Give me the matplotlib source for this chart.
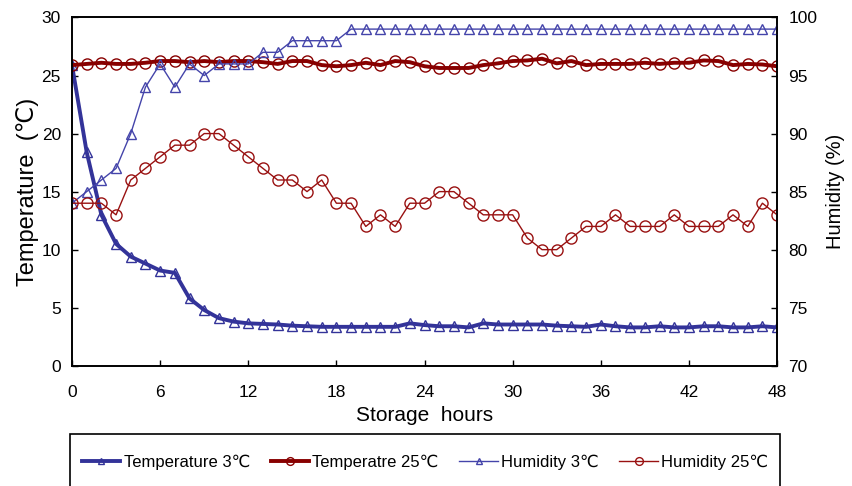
import matplotlib
matplotlib.use('Agg')
import matplotlib.pyplot as plt
from matplotlib.patches import Rectangle

plt.rcParams['font.family'] = ['Liberation Sans', 'DejaVu Sans']

# storage hours, sampled every hour
hours = list(range(0, 49))

temp_3 = [25.9, 18.4, 13.0, 10.5, 9.4, 8.8, 8.2, 8.0, 5.8, 4.8,
          4.1, 3.8, 3.65, 3.6, 3.55, 3.45, 3.4, 3.35, 3.35, 3.35,
          3.35, 3.35, 3.35, 3.65, 3.5, 3.4, 3.4, 3.3, 3.65, 3.55,
          3.55, 3.55, 3.55, 3.45, 3.4, 3.35, 3.55, 3.4, 3.3, 3.3,
          3.4, 3.3, 3.3, 3.4, 3.4, 3.3, 3.3, 3.4, 3.3]

temp_25 = [25.9, 26.0, 26.1, 26.0, 26.0, 26.1, 26.25, 26.25, 26.15, 26.25,
           26.15, 26.25, 26.25, 26.15, 26.0, 26.25, 26.25, 25.9, 25.8, 25.9,
           26.1, 25.9, 26.25, 26.15, 25.8, 25.65, 25.65, 25.65, 25.9, 26.05,
           26.25, 26.3, 26.45, 26.05, 26.25, 25.9, 26.0, 26.0, 26.0, 26.1,
           26.0, 26.1, 26.1, 26.3, 26.25, 25.9, 26.0, 25.95, 25.8]

hum_3 = [84, 85, 86, 87, 90, 94, 96, 94, 96, 95,
         96, 96, 96, 97, 97, 98, 98, 98, 98, 99,
         99, 99, 99, 99, 99, 99, 99, 99, 99, 99,
         99, 99, 99, 99, 99, 99, 99, 99, 99, 99,
         99, 99, 99, 99, 99, 99, 99, 99, 99]

hum_25 = [84, 84, 84, 83, 86, 87, 88, 89, 89, 90,
          90, 89, 88, 87, 86, 86, 85, 86, 84, 84,
          82, 83, 82, 84, 84, 85, 85, 84, 83, 83,
          83, 81, 80, 80, 81, 82, 82, 83, 82, 82,
          82, 83, 82, 82, 82, 83, 82, 84, 83]

xticks = [0, 6, 12, 18, 24, 30, 36, 42, 48]

blue = '#333399'
blue_light = '#4444aa'
red = '#880000'
red_light = '#991111'

fig = plt.figure(figsize=(8.53, 4.86), dpi=100)
ax = fig.add_axes([0.0844, 0.2475, 0.8266, 0.7165])
ax2 = ax.twinx()

l1, = ax.plot(hours, temp_3, color=blue, lw=2.8, marker='^', ms=7,
              mfc='none', mec=blue, mew=1.0, label='Temperature 3\u2103')
l2, = ax.plot(hours, temp_25, color=red, lw=2.8, marker='o', ms=8,
              mfc='none', mec=red, mew=1.0, label='Temperatre 25\u2103')
l3, = ax2.plot(hours, hum_3, color=blue_light, lw=1.0, marker='^', ms=7,
               mfc='none', mec=blue_light, mew=1.0, label='Humidity 3\u2103')
l4, = ax2.plot(hours, hum_25, color=red_light, lw=1.0, marker='o', ms=8,
               mfc='none', mec=red_light, mew=1.0, label='Humidity 25\u2103')

ax.set_xlim(0, 48)
ax.set_ylim(0, 30)
ax2.set_ylim(70, 100)
ax.set_xticks(xticks)
ax.set_yticks(range(0, 31, 5))
ax2.set_yticks(range(70, 101, 5))

for a in (ax, ax2):
    a.tick_params(direction='in', length=4, width=1, labelsize=12.5)
    for s in a.spines.values():
        s.set_linewidth(1.2)
ax.tick_params(axis='x', pad=14)
ax.tick_params(axis='y', pad=8)
ax2.tick_params(axis='y', pad=8)

ax.set_xlabel('Storage  hours', fontsize=15, labelpad=4)
ax.set_ylabel('Temperature  (\u2103)', fontsize=17, labelpad=2)
ax2.set_ylabel('Humidity (%)', fontsize=14.5, labelpad=6)

# legend box (runs off the bottom edge like the original)
fig.patches.append(Rectangle((70 / 853, -0.05), 710 / 853, 0.05 + (486 - 434) / 486,
                             transform=fig.transFigure, fill=False,
                             ec='black', lw=1.2))
fig.legend(handles=[l1, l2, l3, l4], loc='center', ncol=4,
           bbox_to_anchor=(425 / 853, 1 - 462 / 486), frameon=False,
           fontsize=12, handlelength=2.3, handletextpad=0.2,
           columnspacing=1.25, markerscale=0.7)

fig.savefig('out.png', dpi=100)
